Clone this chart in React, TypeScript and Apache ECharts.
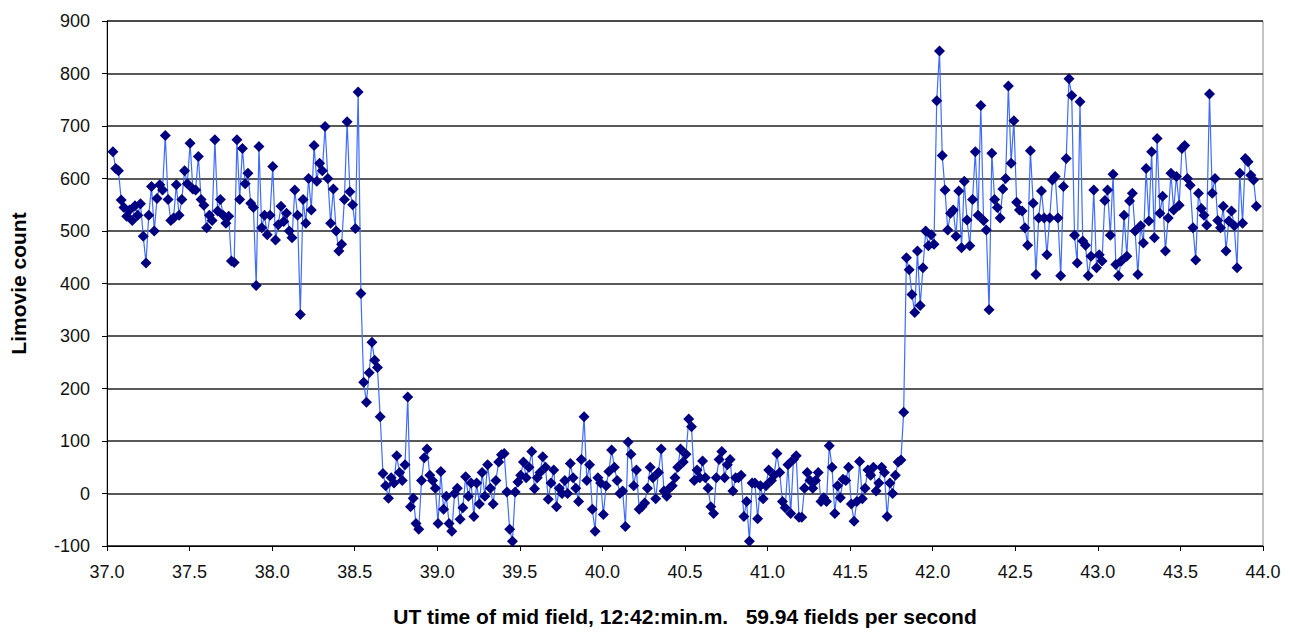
import React, { useEffect, useRef } from "react";
import * as echarts from "echarts";

// Acquisition: first field time (s past 12:42) and field rate (fields per second)
const START_TIME = 37.036;
const FIELDS_PER_SECOND = 59.94;

// Limovie counts, field by field
const beforeA = [651, 619, 615, 559, 545, 528, 540, 520, 548, 530, 552, 490, 439, 530, 585, 500, 562, 588, 578, 682, 560, 520, 525, 588, 530, 560, 615, 590, 667, 580];
const beforeB = [578, 642, 560, 549, 506, 530, 520, 674, 538, 560, 530, 515, 528, 443, 440, 674, 560, 657, 590, 610, 553, 545, 396, 661, 506, 530, 493, 530, 623, 483];
const beforeC = [512, 547, 518, 534, 500, 487, 578, 530, 341, 560, 515, 600, 540, 663, 595, 629, 615, 699, 600, 515, 580, 500, 462, 475, 560, 708, 575, 550, 505, 765];
const ingress = [381, 212, 174, 230, 288, 254, 240, 146, 38, 15, -9, 30, 20, 72, 40, 25, 55, 184, -25, -9, -57, -68, 25, 68, 85, 35, 25, 10, -57, 42];
const occultedA = [-30, -5, -57, -72, 0, 10, -49, -27, 32, -5, 20, -44, 20, -20, 40, -5, 55, 10, -20, 25, 60, 74, 76, 3, -68, -91, 3, 22, 35, 60];
const occultedB = [30, 50, 80, 9, 30, 40, 70, 50, -11, 20, 45, -25, 10, 0, 25, 0, 57, 30, 10, -15, 65, 146, 25, 55, -30, -72, 30, 20, -40, 15];
const occultedC = [42, 83, 50, 25, 0, 5, -63, 98, 75, 15, 45, -30, -25, -18, 10, 50, 30, -10, 40, 85, 5, -5, 10, 15, 30, 50, 85, 60, 75, 142];
const occultedD = [127, 25, 45, 30, 62, 30, 10, -25, -38, 30, 65, 80, 30, 55, 65, 5, 30, 30, 35, -44, -15, -91, 20, 20, -48, 15, -10, 15, 45, 25];
const occultedE = [35, 76, 40, -15, -27, 55, -38, 65, 72, -45, -45, 10, 40, 25, 10, 25, 40, -15, -8, -15, 91, 50, -38, 15, -8, 27, 25, 50, -20, -53];
const egress = [-15, 61, -10, 10, 45, 35, 50, 5, 20, 50, 40, -44, 20, 0, 35, 60, 64, 155, 449, 426, 379, 345, 462, 358, 430, 500, 472, 493, 475, 748];
const afterA = [843, 644, 578, 502, 534, 540, 490, 576, 468, 595, 521, 472, 560, 651, 530, 739, 520, 502, 350, 648, 560, 545, 525, 580, 600, 776, 629, 710, 555, 540];
const afterB = [538, 506, 473, 653, 553, 417, 525, 576, 525, 455, 525, 597, 604, 525, 415, 585, 638, 790, 758, 492, 439, 746, 481, 473, 415, 452, 578, 430, 455, 443];
const afterC = [558, 578, 492, 608, 436, 415, 443, 530, 452, 557, 572, 500, 417, 510, 477, 619, 519, 651, 487, 676, 534, 566, 462, 525, 610, 540, 604, 549, 657, 663];
const afterD = [600, 587, 506, 445, 572, 543, 530, 511, 761, 572, 600, 520, 506, 547, 462, 519, 538, 510, 430, 610, 515, 638, 632, 606, 597, 547];

const xTicks = { min: 37, max: 44, interval: 0.5 };
const yTicks = { min: -100, max: 900, interval: 100 };
const xTitle = "UT time of mid field, 12:42:min.m.   59.94 fields per second";
const yTitle = "Limovie count";

export default function App() {
  const ref = useRef<HTMLDivElement>(null);
  useEffect(() => {
    if (!ref.current) return;
    const chart = echarts.init(ref.current, undefined, { renderer: "svg" });
    const counts = [
      ...beforeA, ...beforeB, ...beforeC, ...ingress,
      ...occultedA, ...occultedB, ...occultedC, ...occultedD, ...occultedE,
      ...egress, ...afterA, ...afterB, ...afterC, ...afterD,
    ];
    const points = counts.map((v, i) => [START_TIME + i / FIELDS_PER_SECOND, v]);
    const font = "'Liberation Sans', Arial, sans-serif";
    chart.setOption({
      animation: false,
      backgroundColor: "#ffffff",
      grid: {
        left: 107,
        right: 30,
        top: 21,
        bottom: 82,
        show: true,
        borderColor: "#888888",
        borderWidth: 1,
      },
      xAxis: {
        type: "value",
        min: xTicks.min,
        max: xTicks.max,
        interval: xTicks.interval,
        name: xTitle,
        nameLocation: "middle",
        nameGap: 60,
        nameTextStyle: { fontFamily: font, fontSize: 21, fontWeight: "bold", color: "#000" },
        axisLine: { show: true, onZero: false, lineStyle: { color: "#000", width: 1 } },
        axisTick: { show: true, inside: false, length: 5, lineStyle: { color: "#000" } },
        axisLabel: {
          fontFamily: font,
          fontSize: 18,
          color: "#111",
          margin: 17,
          formatter: (v: number) => v.toFixed(1),
        },
        splitLine: { show: false },
      },
      yAxis: {
        type: "value",
        min: yTicks.min,
        max: yTicks.max,
        interval: yTicks.interval,
        name: yTitle,
        nameLocation: "middle",
        nameGap: 78,
        nameRotate: 90,
        nameTextStyle: { fontFamily: font, fontSize: 21, fontWeight: "bold", color: "#000" },
        axisLine: { show: true, onZero: false, lineStyle: { color: "#000", width: 1 } },
        axisTick: { show: true, inside: false, length: 5, lineStyle: { color: "#000" } },
        axisLabel: { fontFamily: font, fontSize: 18, color: "#111", margin: 17 },
        splitLine: { show: true, lineStyle: { color: "#222", width: 1.6 } },
      },
      series: [
        {
          type: "line",
          data: points,
          symbol: "diamond",
          symbolSize: 11,
          showAllSymbol: true,
          itemStyle: { color: "#000080", borderWidth: 0 },
          lineStyle: { color: "#3f6cff", width: 1.2 },
        },
      ],
    });
    return () => chart.dispose();
  }, []);
  return (
    <div
      ref={ref}
      style={{ position: "absolute", left: 0, top: 0, width: 1293, height: 632 }}
    />
  );
}
